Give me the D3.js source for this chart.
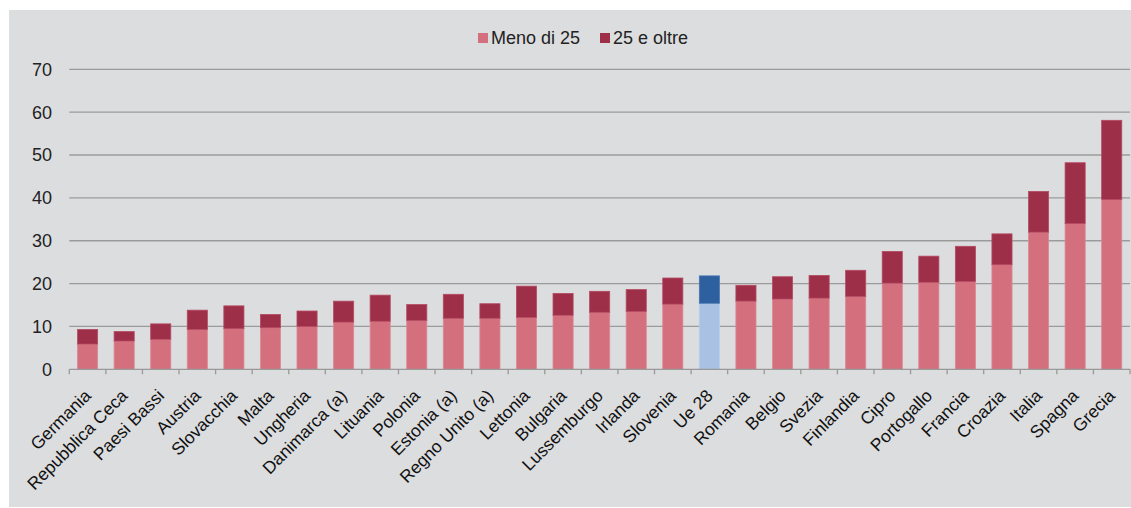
<!DOCTYPE html>
<html><head><meta charset="utf-8">
<script src="https://cdn.jsdelivr.net/npm/d3@7"></script>
<style>
html,body{margin:0;padding:0;background:#fff;}
svg{display:block;font-family:"Liberation Sans",Arial,sans-serif;}
</style></head>
<body><svg id="c" width="1131" height="508"></svg>
<script>
const categories = ["Germania","Repubblica Ceca","Paesi Bassi","Austria","Slovacchia","Malta","Ungheria","Danimarca (a)","Lituania","Polonia","Estonia (a)","Regno Unito (a)","Lettonia","Bulgaria","Lussemburgo","Irlanda","Slovenia","Ue 28","Romania","Belgio","Svezia","Finlandia","Cipro","Portogallo","Francia","Croazia","Italia","Spagna","Grecia"];
const menoDi25 = [5.9,6.6,7.0,9.3,9.5,9.7,10.0,11.0,11.2,11.4,11.9,11.9,12.1,12.6,13.3,13.5,15.2,15.4,15.9,16.4,16.6,17.0,20.1,20.3,20.5,24.4,32.0,34.0,39.6];
const totale = [9.3,8.8,10.6,13.8,14.8,12.8,13.6,15.9,17.3,15.1,17.5,15.3,19.4,17.7,18.2,18.6,21.3,21.8,19.6,21.6,21.9,23.1,27.5,26.4,28.7,31.6,41.5,48.2,58.1];
const venticinqueEOltre = totale.map((t,i)=>+(t-menoDi25[i]).toFixed(1));
const seriesNames = ["Meno di 25","25 e oltre"];
const yTicks = [0,10,20,30,40,50,60,70];

const svg = d3.select("#c");
svg.append("rect").attr("x",9).attr("y",10).attr("width",1122).attr("height",497).attr("fill","#dcdddf");

const x = d3.scaleBand().domain(categories).range([69.3,1130]).paddingInner(0.45).paddingOuter(0.225);
const y = d3.scaleLinear().domain([0,70]).range([369.3,69.3]);

// grid
svg.append("g").selectAll("line").data(yTicks.filter(d=>d>0)).join("line")
  .attr("x1",69.3).attr("x2",1130).attr("y1",d=>y(d)).attr("y2",d=>y(d))
  .attr("stroke","#9b9b9b").attr("stroke-width",1.3);

// y labels
svg.append("g").selectAll("text").data(yTicks).join("text")
  .attr("x",52).attr("y",d=>y(d)).attr("dy","0.36em").attr("text-anchor","end")
  .attr("font-size",18).attr("fill","#222").text(d=>d);

const colors = {
  low: ["#d4707e","#a9c1e3"],
  high: ["#9e2f48","#2e5f9f"]
};
const isUe = c => c==="Ue 28";

const bars = svg.append("g");
bars.selectAll("rect.low").data(categories).join("rect").attr("class","low")
  .attr("x",d=>x(d)).attr("width",x.bandwidth())
  .attr("y",(d,i)=>y(menoDi25[i])).attr("height",(d,i)=>y(0)-y(menoDi25[i]))
  .attr("fill",d=>isUe(d)?colors.low[1]:colors.low[0])
  .attr("stroke",d=>isUe(d)?"#b7cdea":"#dc8895").attr("stroke-width",0.8);
bars.selectAll("rect.high").data(categories).join("rect").attr("class","high")
  .attr("x",d=>x(d)).attr("width",x.bandwidth())
  .attr("y",(d,i)=>y(totale[i])).attr("height",(d,i)=>y(menoDi25[i])-y(totale[i]))
  .attr("fill",d=>isUe(d)?colors.high[1]:colors.high[0])
  .attr("stroke",d=>isUe(d)?"#4a78b3":"#b54a62").attr("stroke-width",0.8);

// x axis
const xa = svg.append("g");
xa.append("line").attr("x1",69.3).attr("x2",1130).attr("y1",y(0)).attr("y2",y(0)).attr("stroke","#999").attr("stroke-width",1.3);
const tickPos = categories.map((c,i)=>69.3 + i*(1130-69.3)/categories.length).concat([1130]);
xa.selectAll("line.t").data(tickPos).join("line").attr("class","t")
  .attr("x1",d=>d).attr("x2",d=>d).attr("y1",y(0)).attr("y2",y(0)+5).attr("stroke","#999").attr("stroke-width",1.3);
xa.selectAll("text").data(categories).join("text")
  .attr("transform",d=>`translate(${x(d)+x.bandwidth()/2},${y(0)+23}) rotate(-45)`)
  .attr("text-anchor","end").attr("dy","0.36em")
  .attr("font-size",17.5).attr("fill","#111").text(d=>d);

// legend
const leg = svg.append("g");
const legX = [478,600];
seriesNames.forEach((n,i)=>{
  leg.append("rect").attr("x",legX[i]).attr("y",33).attr("width",10).attr("height",10)
    .attr("fill",colors[i?"high":"low"][0]);
  leg.append("text").attr("x",legX[i]+13).attr("y",38).attr("dy","0.36em")
    .attr("font-size",18).attr("fill","#222").text(n);
});
</script></body></html>
